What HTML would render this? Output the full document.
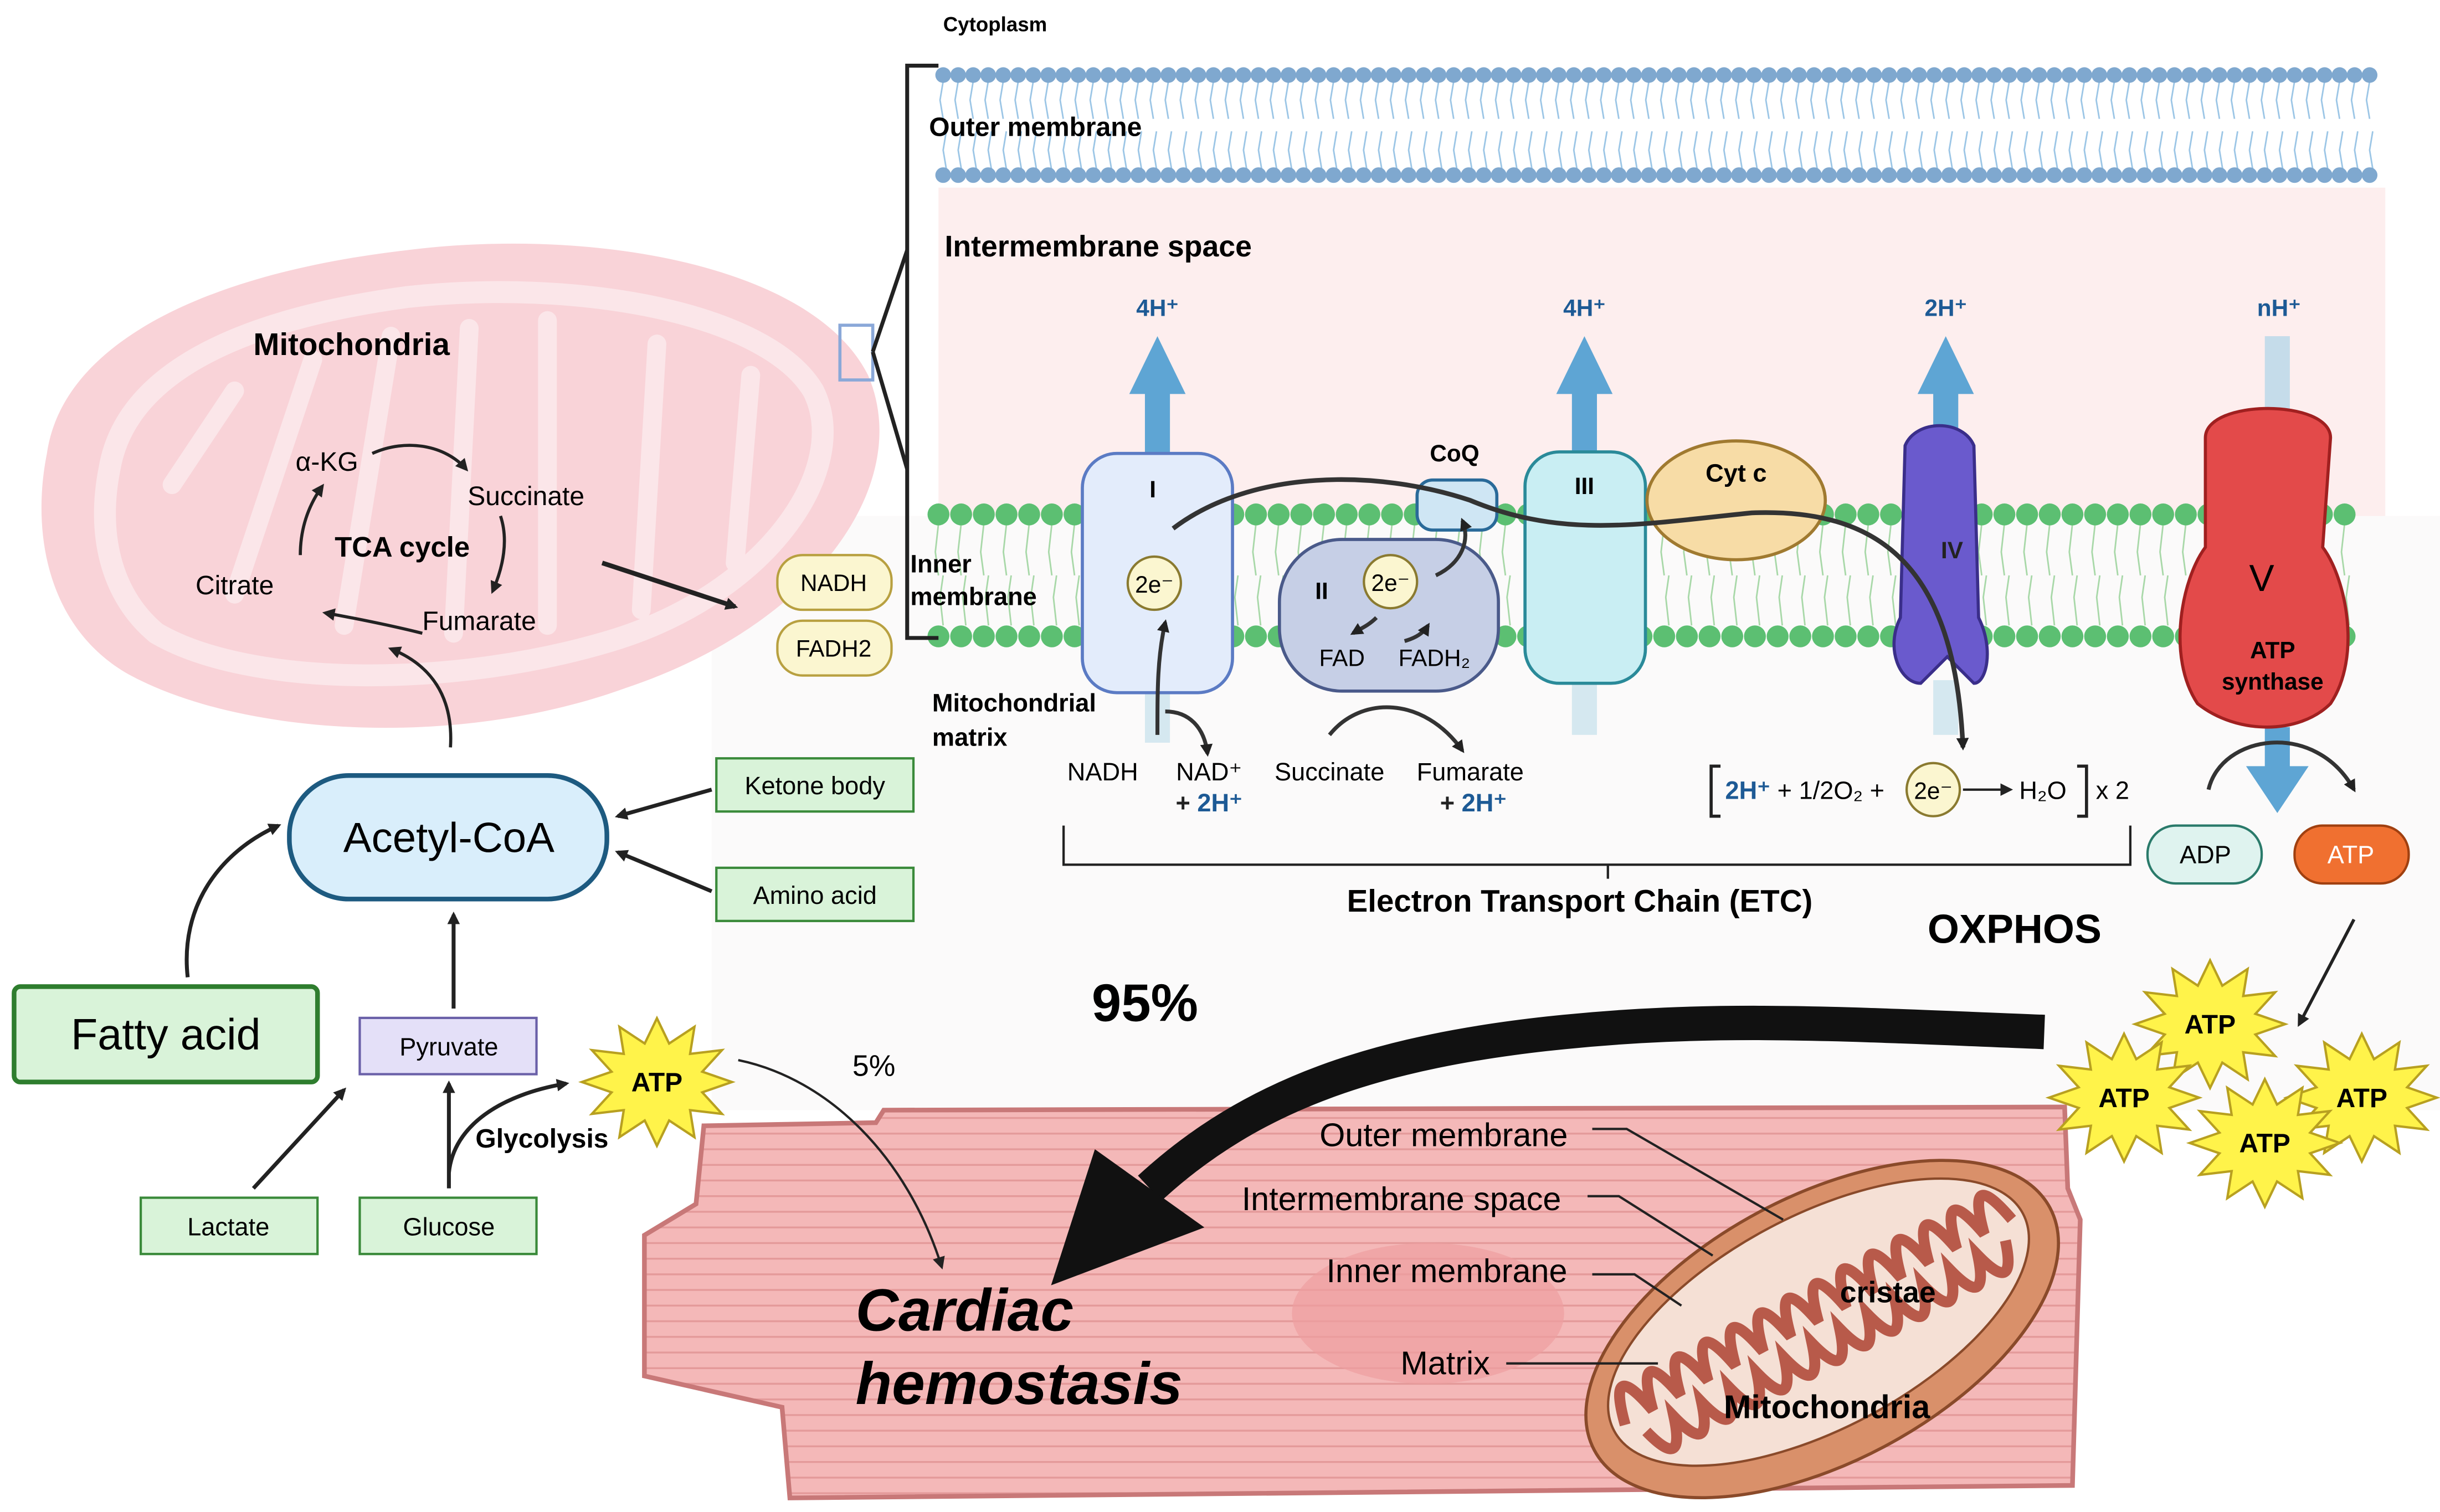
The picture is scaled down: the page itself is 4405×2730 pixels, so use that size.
<!DOCTYPE html>
<html><head><meta charset="utf-8">
<style>
html,body{margin:0;padding:0;background:#fff}
svg{display:block}
text{font-family:"Liberation Sans",Arial,sans-serif}
</style></head>
<body>
<svg id="s" width="4405" height="2730" viewBox="0 0 1560 967" preserveAspectRatio="none" xmlns="http://www.w3.org/2000/svg">
<defs>
<marker id="ah" markerWidth="8" markerHeight="8" refX="6" refY="4" orient="auto" markerUnits="userSpaceOnUse"><path d="M0,0 L8,4 L0,8 z" fill="#222"/></marker>
<clipPath id="cellclip"><path d="M450,720 L560,718 L565,710 L1320,708 L1322,760 L1330,780 L1325,950 L505,958 L500,900 L412,880 L412,790 L445,770 Z"/></clipPath>
</defs>
<rect width="1560" height="967" fill="#fff"/>
<rect x="455" y="330" width="1105" height="380" fill="#fbfafa"/>
<rect x="600" y="120" width="925" height="210" fill="#fdeeee"/>
<g id="mem"></g>

<g>
<path d="M30,290 C40,220 130,175 260,160 C380,145 520,170 555,240 C585,310 520,400 400,440 C290,480 150,470 80,430 C30,400 20,340 30,290 Z" fill="#f9d3d8"/>
<path d="M70,300 C80,240 150,205 260,190 C370,178 490,200 520,250 C545,300 490,380 390,410 C290,440 160,440 100,405 C70,380 62,340 70,300 Z" fill="none" stroke="#fbe6e9" stroke-width="14"/>
<g stroke="#fbe6e9" stroke-width="12" fill="none" stroke-linecap="round">
<path d="M110,310 L150,250"/><path d="M150,380 L200,230"/><path d="M220,400 L250,215"/><path d="M290,405 L300,210"/><path d="M350,400 L350,205"/><path d="M410,390 L420,220"/><path d="M470,360 L480,240"/>
</g>
</g>
<text x="162" y="227" font-size="20" font-weight="bold">Mitochondria</text>
<rect x="537" y="208" width="21" height="35" fill="none" stroke="#8aa8d8" stroke-width="2"/>
<path d="M558,225 L580,160 M558,225 L580,300" stroke="#222" stroke-width="2.5" fill="none"/>
<path d="M600,42 L580,42 L580,408 L600,408" stroke="#222" stroke-width="2.5" fill="none"/>
<text x="603" y="20" font-size="13" font-weight="bold">Cytoplasm</text>
<text x="594" y="87" font-size="17" font-weight="bold">Outer membrane</text>
<text x="604" y="164" font-size="19" font-weight="bold">Intermembrane space</text>
<text x="582" y="366" font-size="16" font-weight="bold">Inner</text>
<text x="582" y="387" font-size="16" font-weight="bold">membrane</text>
<text x="596" y="455" font-size="16" font-weight="bold">Mitochondrial</text>
<text x="596" y="477" font-size="16" font-weight="bold">matrix</text>

<text x="189" y="301" font-size="17">α-KG</text>
<text x="299" y="323" font-size="17">Succinate</text>
<text x="214" y="356" font-size="18" font-weight="bold">TCA cycle</text>
<text x="125" y="380" font-size="17">Citrate</text>
<text x="270" y="403" font-size="17">Fumarate</text>
<g stroke="#222" stroke-width="2" fill="none" marker-end="url(#ah)">
<path d="M238,290 C260,280 285,285 298,300"/>
<path d="M320,330 C325,345 322,362 315,378"/>
<path d="M192,355 C192,340 196,325 206,311"/>
<path d="M270,405 C250,400 225,395 208,392"/>
<path d="M288,478 C290,445 275,425 250,415"/>
<path d="M385,360 L470,388" stroke-width="3"/>
</g>
<rect x="497" y="355" width="73" height="35" rx="16" fill="#fbf6d0" stroke="#b8a040" stroke-width="1.5"/>
<text x="533" y="378" font-size="15" text-anchor="middle">NADH</text>
<rect x="497" y="397" width="73" height="35" rx="16" fill="#fbf6d0" stroke="#b8a040" stroke-width="1.5"/>
<text x="533" y="420" font-size="15" text-anchor="middle">FADH2</text>

<rect x="185" y="496" width="203" height="79" rx="38" fill="#d9eefb" stroke="#1d5a80" stroke-width="3"/>
<text x="287" y="545" font-size="27" text-anchor="middle">Acetyl-CoA</text>
<rect x="458" y="485" width="126" height="34" fill="#d9f3d9" stroke="#3a8a3a" stroke-width="1.5"/>
<text x="521" y="508" font-size="16" text-anchor="middle">Ketone body</text>
<rect x="458" y="555" width="126" height="34" fill="#d9f3d9" stroke="#3a8a3a" stroke-width="1.5"/>
<text x="521" y="578" font-size="16" text-anchor="middle">Amino acid</text>
<rect x="9" y="631" width="194" height="61" rx="4" fill="#d9f3d9" stroke="#2e7d2e" stroke-width="3"/>
<text x="106" y="671" font-size="28" text-anchor="middle">Fatty acid</text>
<rect x="230" y="651" width="113" height="36" fill="#e4e0f8" stroke="#6a60a8" stroke-width="1.5"/>
<text x="287" y="675" font-size="16" text-anchor="middle">Pyruvate</text>
<rect x="90" y="766" width="113" height="36" fill="#d9f3d9" stroke="#3a8a3a" stroke-width="1.5"/>
<text x="146" y="790" font-size="16" text-anchor="middle">Lactate</text>
<rect x="230" y="766" width="113" height="36" fill="#d9f3d9" stroke="#3a8a3a" stroke-width="1.5"/>
<text x="287" y="790" font-size="16" text-anchor="middle">Glucose</text>
<text x="304" y="734" font-size="17" font-weight="bold">Glycolysis</text>
<text x="545" y="688" font-size="19">5%</text>
<g stroke="#222" stroke-width="2.5" fill="none" marker-end="url(#ah)">
<path d="M455,505 L395,522"/>
<path d="M455,570 L395,545"/>
<path d="M120,625 C115,580 140,545 178,528"/>
<path d="M290,645 L290,585"/>
<path d="M162,760 L220,697"/>
<path d="M287,760 L287,693"/>
<path d="M287,750 C290,720 320,700 362,693"/>
</g>

<path d="M1013,292 L1013,250" stroke="#5ea5d4" stroke-width="16"/><path d="M995,252 L1013,215 L1031,252 Z" fill="#5ea5d4"/>
<rect x="732" y="245" width="16" height="50" fill="#5ea5d4"/>
<path d="M722,252 L740,215 L758,252 Z" fill="#5ea5d4"/>
<path d="M1244,280 L1244,250" stroke="#5ea5d4" stroke-width="16"/><path d="M1226,252 L1244,215 L1262,252 Z" fill="#5ea5d4"/>
<rect x="1448" y="215" width="16" height="50" fill="#c5dcea"/>
<path d="M1436,490 L1456,520 L1476,490 Z" fill="#5ea5d4"/><rect x="1448" y="465" width="16" height="27" fill="#5ea5d4"/>
<rect x="1005" y="435" width="16" height="35" fill="#d5e8f0"/>
<rect x="1236" y="435" width="16" height="35" fill="#d5e8f0"/>
<rect x="732" y="440" width="16" height="35" fill="#d5e8f0"/>
<text x="740" y="202" font-size="15" font-weight="bold" fill="#1d5a95" text-anchor="middle">4H⁺</text>
<text x="1013" y="202" font-size="15" font-weight="bold" fill="#1d5a95" text-anchor="middle">4H⁺</text>
<text x="1244" y="202" font-size="15" font-weight="bold" fill="#1d5a95" text-anchor="middle">2H⁺</text>
<text x="1457" y="202" font-size="15" font-weight="bold" fill="#1d5a95" text-anchor="middle">nH⁺</text>

<rect x="692" y="290" width="96" height="153" rx="22" fill="#e3ecfb" stroke="#5b7bc4" stroke-width="2"/>
<text x="737" y="318" font-size="15" font-weight="bold" text-anchor="middle">I</text>
<rect x="818" y="345" width="140" height="97" rx="40" fill="#c6cfe6" stroke="#4a5a8a" stroke-width="2"/>
<text x="845" y="383" font-size="15" font-weight="bold" text-anchor="middle">II</text>
<rect x="906" y="307" width="51" height="32" rx="10" fill="#cfe6f4" stroke="#2a6a99" stroke-width="2"/>
<text x="930" y="295" font-size="15" font-weight="bold" text-anchor="middle">CoQ</text>
<rect x="975" y="289" width="77" height="148" rx="22" fill="#c9eef3" stroke="#2a8a99" stroke-width="2"/>
<text x="1013" y="316" font-size="15" font-weight="bold" text-anchor="middle">III</text>
<ellipse cx="1110" cy="320" rx="57" ry="38" fill="#f7dca6" stroke="#a07a30" stroke-width="2"/>
<text x="1110" y="308" font-size="16" font-weight="bold" text-anchor="middle">Cyt c</text>
<path d="M1218,285 C1225,268 1255,268 1262,285 L1265,395 C1275,415 1270,437 1262,437 L1245,420 L1228,437 C1215,437 1205,415 1215,395 Z" fill="#6a5acd" stroke="#3a2e8a" stroke-width="2"/>
<text x="1248" y="357" font-size="15" font-weight="bold" fill="#222" text-anchor="middle">IV</text>
<path d="M1410,280 C1410,255 1490,255 1490,280 L1485,350 C1500,370 1510,420 1490,450 C1470,470 1430,470 1405,450 C1385,420 1395,370 1410,350 Z" fill="#e34a4a" stroke="#a02020" stroke-width="2"/>
<text x="1446" y="378" font-size="24" text-anchor="middle">V</text>
<text x="1453" y="421" font-size="15" font-weight="bold" text-anchor="middle">ATP</text>
<text x="1453" y="441" font-size="15" font-weight="bold" text-anchor="middle">synthase</text>

<path d="M750,338 C800,300 880,300 940,320 C1000,345 1050,335 1120,328 C1200,325 1250,360 1255,478" stroke="#333" stroke-width="3" fill="none" marker-end="url(#ah)"/>
<path d="M918,368 C935,360 940,345 935,333" stroke="#333" stroke-width="2.5" fill="none" marker-end="url(#ah)"/>
<circle cx="738" cy="373" r="17" fill="#fbf6d0" stroke="#8a7a30" stroke-width="1.5"/>
<text x="738" y="379" font-size="15" text-anchor="middle">2e⁻</text>
<circle cx="889" cy="372" r="17" fill="#fbf6d0" stroke="#8a7a30" stroke-width="1.5"/>
<text x="889" y="378" font-size="15" text-anchor="middle">2e⁻</text>
<text x="858" y="426" font-size="15" text-anchor="middle">FAD</text>
<text x="917" y="426" font-size="15" text-anchor="middle">FADH₂</text>
<g stroke="#333" stroke-width="2.5" fill="none" marker-end="url(#ah)">
<path d="M740,470 C740,440 740,420 745,398"/>
<path d="M745,455 C760,455 770,465 772,482"/>
<path d="M880,395 C875,400 870,402 865,405"/>
<path d="M898,410 C905,408 910,405 913,400"/>
<path d="M850,470 C870,445 910,445 935,480"/>
<path d="M1412,505 C1420,470 1480,460 1505,505"/>
</g>
<text x="705" y="499" font-size="16" text-anchor="middle">NADH</text>
<text x="773" y="499" font-size="16" text-anchor="middle">NAD⁺</text>
<text x="773" y="519" font-size="16" font-weight="bold" text-anchor="middle"><tspan fill="#222">+ </tspan><tspan fill="#1d5a95">2H⁺</tspan></text>
<text x="850" y="499" font-size="16" text-anchor="middle">Succinate</text>
<text x="940" y="499" font-size="16" text-anchor="middle">Fumarate</text>
<text x="942" y="519" font-size="16" font-weight="bold" text-anchor="middle"><tspan fill="#222">+ </tspan><tspan fill="#1d5a95">2H⁺</tspan></text>
<path d="M1100,490 L1094,490 L1094,522 L1100,522 M1328,490 L1334,490 L1334,522 L1328,522" stroke="#222" stroke-width="2" fill="none"/>
<text x="1103" y="511" font-size="16"><tspan font-weight="bold" fill="#1d5a95">2H⁺</tspan> + 1/2O₂ +</text>
<circle cx="1236" cy="505" r="17" fill="#fbf6d0" stroke="#8a7a30" stroke-width="1.5"/>
<text x="1236" y="511" font-size="15" text-anchor="middle">2e⁻</text>
<path d="M1255,505 L1285,505" stroke="#222" stroke-width="1.5" marker-end="url(#ah)"/>
<text x="1291" y="511" font-size="16">H₂O</text>
<text x="1340" y="511" font-size="16">x 2</text>
<path d="M680,528 L680,553 L1362,553 L1362,528 M1028,553 L1028,562" stroke="#222" stroke-width="1.5" fill="none"/>
<text x="1010" y="583" font-size="20" font-weight="bold" text-anchor="middle">Electron Transport Chain (ETC)</text>
<text x="1288" y="603" font-size="26" font-weight="bold" text-anchor="middle">OXPHOS</text>
<rect x="1373" y="528" width="73" height="37" rx="18" fill="#dff3ef" stroke="#2a7a6a" stroke-width="1.5"/>
<text x="1410" y="552" font-size="16" text-anchor="middle">ADP</text>
<rect x="1467" y="528" width="73" height="37" rx="18" fill="#f07030" stroke="#a04010" stroke-width="1.5"/>
<text x="1503" y="552" font-size="16" fill="#fff" text-anchor="middle">ATP</text>
<path d="M1505,588 L1470,655" stroke="#222" stroke-width="2" marker-end="url(#ah)"/>

<path d="M450,720 L560,718 L565,710 L1320,708 L1322,760 L1330,780 L1325,950 L505,958 L500,900 L412,880 L412,790 L445,770 Z" fill="#f4b8b8"/>
<g id="stripes" stroke="#e49a9a" stroke-width="1.2" clip-path="url(#cellclip)"></g>
<path d="M450,720 L560,718 L565,710 L1320,708 L1322,760 L1330,780 L1325,950 L505,958 L500,900 L412,880 L412,790 L445,770 Z" fill="none" stroke="#c87878" stroke-width="3"/>
<ellipse cx="913" cy="840" rx="87" ry="45" fill="#ee9ea0" opacity="0.7"/>
<g transform="rotate(-28 1165 850)">
<ellipse cx="1165" cy="850" rx="165" ry="85" fill="#d9906a" stroke="#8a4a2a" stroke-width="2"/>
<ellipse cx="1165" cy="845" rx="148" ry="68" fill="#f5e0d5" stroke="#8a4a2a" stroke-width="1.5"/>
<path d="M1025,845 q10,-45 20,0 q10,-45 20,0 q10,-45 20,0 q10,-45 20,0 q10,-45 20,0 q10,-45 20,0 q10,-45 20,0 q10,-45 20,0 q10,-45 20,0 q10,-45 20,0 q10,-45 20,0 q10,-45 20,0 q10,-45 20,0 q10,-45 20,0" fill="none" stroke="#b85a4a" stroke-width="7"/>
<path d="M1035,855 q10,35 20,0 q10,35 20,0 q10,35 20,0 q10,35 20,0 q10,35 20,0 q10,35 20,0 q10,35 20,0 q10,35 20,0 q10,35 20,0 q10,35 20,0 q10,35 20,0 q10,35 20,0 q10,35 20,0" fill="none" stroke="#b85a4a" stroke-width="7"/>
</g>
<text x="923" y="733" font-size="21" text-anchor="middle">Outer membrane</text>
<text x="896" y="774" font-size="21" text-anchor="middle">Intermembrane space</text>
<text x="925" y="820" font-size="21" text-anchor="middle">Inner membrane</text>
<text x="924" y="879" font-size="21" text-anchor="middle">Matrix</text>
<text x="1207" y="833" font-size="19" font-weight="bold" text-anchor="middle">cristae</text>
<text x="1168" y="907" font-size="21" font-weight="bold" text-anchor="middle">Mitochondria</text>
<g stroke="#222" stroke-width="1.5" fill="none">
<path d="M1018,722 L1040,722 L1140,780"/>
<path d="M1015,765 L1035,765 L1095,803"/>
<path d="M1018,815 L1045,815 L1075,835"/>
<path d="M963,872 L1060,872"/>
</g>
<text x="547" y="851" font-size="38" font-weight="bold" font-style="italic">Cardiac</text>
<text x="547" y="898" font-size="38" font-weight="bold" font-style="italic">hemostasis</text>
<path d="M472,678 C530,690 580,740 602,810" stroke="#222" stroke-width="1.5" fill="none" marker-end="url(#ah)"/>

<path d="M1307,660 C1180,655 1100,650 1000,660 C880,672 800,700 735,760" stroke="#111" stroke-width="22" fill="none"/>
<path d="M700,735 L770,785 L672,822 Z" fill="#111"/>
<text x="732" y="653" font-size="34" font-weight="bold" text-anchor="middle">95%</text>

<g id="stars"></g>
<g font-size="17" font-weight="bold" text-anchor="middle">
<text x="420" y="698">ATP</text>
<text x="1413" y="661">ATP</text>
<text x="1358" y="708">ATP</text>
<text x="1510" y="708">ATP</text>
<text x="1448" y="737">ATP</text>
</g>
</svg>
<script>
var NS="http://www.w3.org/2000/svg";
function el(t,a,p){var e=document.createElementNS(NS,t);for(var k in a)e.setAttribute(k,a[k]);p.appendChild(e);return e;}
var mem=document.getElementById('mem');
var d="";for(var x=603;x<=1515;x+=9.6){d+="M"+x+",52 l-2,12 l2,12 M"+(x+2)+",108 l-2,-12 l2,-12 ";}
el('path',{d:d,stroke:'#9cc6e6','stroke-width':1,fill:'none'},mem);
for(var x=603;x<=1515;x+=9.6){el('circle',{cx:x,cy:48,r:5,fill:'#7fa8cf'},mem);el('circle',{cx:x,cy:112,r:5,fill:'#7fa8cf'},mem);}
d="";for(var x=600;x<=1510;x+=14.5){d+="M"+x+",335 l-2,18 l2,15 M"+(x+3)+",400 l-2,-18 l2,-14 ";}
el('path',{d:d,stroke:'#a8d8a8','stroke-width':1,fill:'none'},mem);
for(var x=600;x<=1510;x+=14.5){el('circle',{cx:x,cy:329,r:7,fill:'#5cbf72'},mem);el('circle',{cx:x,cy:407,r:7,fill:'#5cbf72'},mem);}
var st=document.getElementById('stripes');
for(var y=715;y<960;y+=10){el('line',{x1:410,y1:y,x2:1335,y2:y},st);}
var sg=document.getElementById('stars');
function star(cx,cy,R,r,n){var p=[];for(var i=0;i<2*n;i++){var a=Math.PI*i/n-Math.PI/2;var rr=i%2?r:R;p.push((cx+rr*Math.cos(a)).toFixed(1)+","+(cy+rr*Math.sin(a)*0.85).toFixed(1));}
el('polygon',{points:p.join(" "),fill:'#fff34a',stroke:'#b8a020','stroke-width':1.5},sg);}
star(420,692,48,30,12);star(1413,655,48,30,12);star(1358,702,48,30,12);star(1510,702,48,30,12);star(1448,731,48,30,12);
</script>
</body></html>
